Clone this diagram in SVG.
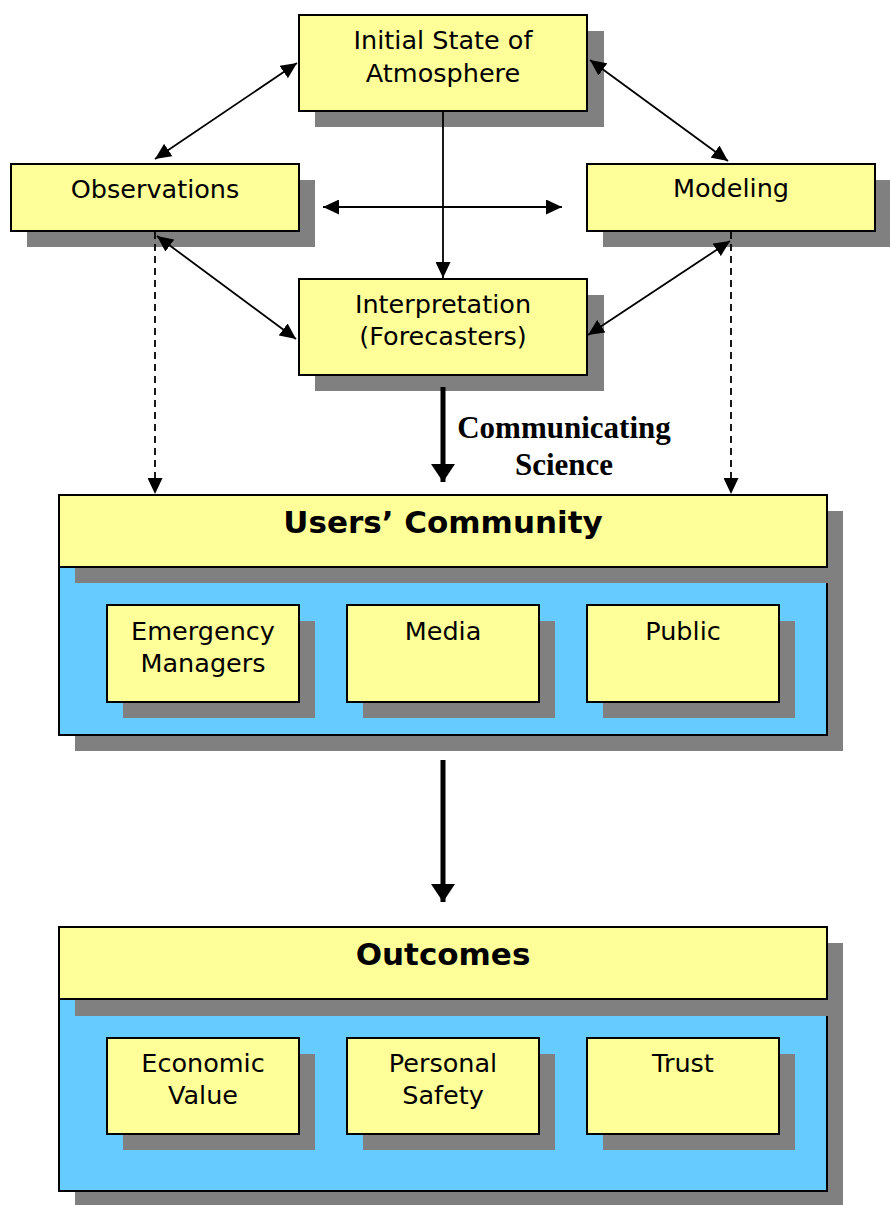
<svg xmlns="http://www.w3.org/2000/svg" width="890" height="1205" viewBox="0 0 890 1205">
  <defs>
    <style>
      .box { fill: #FFFF99; stroke: #000; stroke-width: 2; }
      .panel { fill: #66CCFF; stroke: #000; stroke-width: 2; }
      .shadow { fill: #808080; }
      .lbl { font-family: "DejaVu Sans", Verdana, sans-serif; font-size: 25.5px; fill: #000; text-anchor: middle; }
      .title { font-family: "DejaVu Sans", Verdana, sans-serif; font-size: 31px; font-weight: bold; fill: #000; text-anchor: middle; }
      .cap { font-family: "Liberation Serif", "Times New Roman", serif; font-size: 31px; font-weight: bold; fill: #000; text-anchor: middle; }
      .link { stroke: #000; stroke-width: 1.8; fill: none; }
      .dash { stroke: #000; stroke-width: 1.8; fill: none; stroke-dasharray: 7 5; }
      .thick { stroke: #000; stroke-width: 5; fill: none; }
    </style>
    <marker id="head" viewBox="0 0 16 15" refX="16" refY="7.5" markerWidth="16" markerHeight="15" markerUnits="userSpaceOnUse" orient="auto-start-reverse">
      <path d="M0,0 L16,7.5 L0,15 z" fill="#000"/>
    </marker>
    <marker id="bighead" viewBox="0 0 18 24" refX="18" refY="12" markerWidth="18" markerHeight="24" markerUnits="userSpaceOnUse" orient="auto">
      <path d="M0,0 L18,12 L0,24 z" fill="#000"/>
    </marker>
  </defs>

  <!-- upper nodes -->
  <g id="initial-state">
    <rect class="shadow" x="315" y="31" width="289" height="96"/>
    <rect class="box" x="299" y="15" width="288" height="96"/>
    <text class="lbl" x="443" y="49">Initial State of</text>
    <text class="lbl" x="443" y="82">Atmosphere</text>
  </g>
  <g id="observations">
    <rect class="shadow" x="27" y="180" width="288" height="67"/>
    <rect class="box" x="11" y="164" width="288" height="67"/>
    <text class="lbl" x="155" y="198">Observations</text>
  </g>
  <g id="modeling">
    <rect class="shadow" x="603" y="180" width="288" height="67"/>
    <rect class="box" x="587" y="164" width="288" height="67"/>
    <text class="lbl" x="731" y="197">Modeling</text>
  </g>
  <g id="interpretation">
    <rect class="shadow" x="315" y="295" width="289" height="96"/>
    <rect class="box" x="299" y="279" width="288" height="96"/>
    <text class="lbl" x="443" y="313">Interpretation</text>
    <text class="lbl" x="443" y="345">(Forecasters)</text>
  </g>

  <!-- users' community -->
  <g id="users-community">
    <rect class="shadow" x="75" y="511" width="768" height="240"/>
    <rect class="panel" x="59" y="495" width="768" height="240"/>
    <rect class="shadow" x="75" y="511" width="768" height="72"/>
    <rect class="box" x="59" y="495" width="768" height="72"/>
    <text class="title" x="443" y="533">Users’ Community</text>
  </g>
  <g id="emergency-managers">
    <rect class="shadow" x="123" y="621" width="192" height="97"/>
    <rect class="box" x="107" y="605" width="192" height="97"/>
    <text class="lbl" x="203" y="640">Emergency</text>
    <text class="lbl" x="203" y="672">Managers</text>
  </g>
  <g id="media">
    <rect class="shadow" x="363" y="621" width="192" height="97"/>
    <rect class="box" x="347" y="605" width="192" height="97"/>
    <text class="lbl" x="443" y="640">Media</text>
  </g>
  <g id="public">
    <rect class="shadow" x="603" y="621" width="192" height="97"/>
    <rect class="box" x="587" y="605" width="192" height="97"/>
    <text class="lbl" x="683" y="640">Public</text>
  </g>

  <!-- outcomes -->
  <g id="outcomes">
    <rect class="shadow" x="75" y="943" width="768" height="264"/>
    <rect class="panel" x="59" y="927" width="768" height="264"/>
    <rect class="shadow" x="75" y="943" width="768" height="73"/>
    <rect class="box" x="59" y="927" width="768" height="72"/>
    <text class="title" x="443" y="965">Outcomes</text>
  </g>
  <g id="economic-value">
    <rect class="shadow" x="123" y="1054" width="192" height="96"/>
    <rect class="box" x="107" y="1038" width="192" height="96"/>
    <text class="lbl" x="203" y="1072">Economic</text>
    <text class="lbl" x="203" y="1104">Value</text>
  </g>
  <g id="personal-safety">
    <rect class="shadow" x="363" y="1054" width="192" height="96"/>
    <rect class="box" x="347" y="1038" width="192" height="96"/>
    <text class="lbl" x="443" y="1072">Personal</text>
    <text class="lbl" x="443" y="1104">Safety</text>
  </g>
  <g id="trust">
    <rect class="shadow" x="603" y="1054" width="192" height="96"/>
    <rect class="box" x="587" y="1038" width="192" height="96"/>
    <text class="lbl" x="683" y="1072">Trust</text>
  </g>

  <!-- connectors, drawn over the box shadows -->
  <g id="connectors">
    <line class="link" x1="297" y1="63" x2="155" y2="159" marker-start="url(#head)" marker-end="url(#head)"/>
    <line class="link" x1="590" y1="60" x2="728" y2="161" marker-start="url(#head)" marker-end="url(#head)"/>
    <line class="link" x1="157" y1="236" x2="296" y2="339" marker-start="url(#head)" marker-end="url(#head)"/>
    <line class="link" x1="730" y1="241" x2="588" y2="335" marker-start="url(#head)" marker-end="url(#head)"/>
    <line class="link" x1="323" y1="207" x2="562" y2="207" marker-start="url(#head)" marker-end="url(#head)"/>
    <line class="link" x1="443" y1="111" x2="443" y2="278" marker-end="url(#head)"/>
    <line class="dash" x1="155" y1="232" x2="155" y2="494" marker-end="url(#head)"/>
    <line class="dash" x1="731" y1="232" x2="731" y2="494" marker-end="url(#head)"/>
    <line class="thick" x1="443" y1="387" x2="443" y2="482" marker-end="url(#bighead)"/>
    <line class="thick" x1="443" y1="760" x2="443" y2="902" marker-end="url(#bighead)"/>
    <text class="cap" x="564" y="438">Communicating</text>
    <text class="cap" x="564" y="475">Science</text>
  </g>
</svg>
